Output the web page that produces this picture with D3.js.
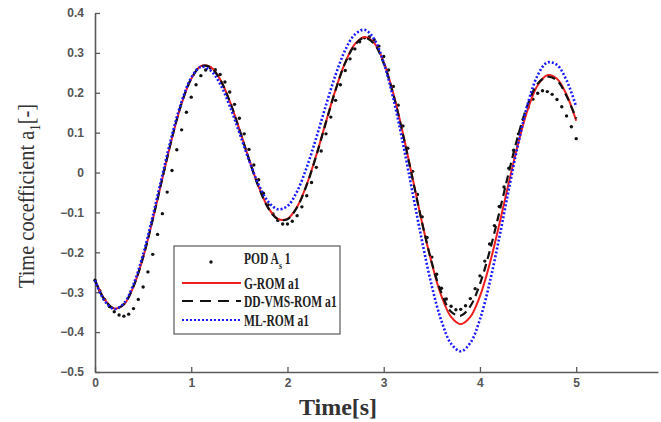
<!DOCTYPE html>
<html>
<head>
<meta charset="utf-8">
<script src="https://cdn.jsdelivr.net/npm/d3@7"></script>
<style>
  html, body { margin: 0; padding: 0; background: #fff; }
  svg { display: block; }
</style>
</head>
<body>
<div id="chart"></div>
<script>
// sample times of the ROM curves (s)
var timeRom = [0, 0.1, 0.2, 0.3, 0.4, 0.5, 0.6, 0.7, 0.8, 0.9, 1.0, 1.1, 1.2, 1.3, 1.4, 1.5, 1.6, 1.7, 1.8, 1.9,
  2.0, 2.1, 2.2, 2.3, 2.4, 2.5, 2.6, 2.7, 2.8, 2.9, 3.0, 3.1, 3.2, 3.3, 3.4, 3.5, 3.6, 3.7, 3.8, 3.9,
  4.0, 4.1, 4.2, 4.3, 4.4, 4.5, 4.6, 4.7, 4.8, 4.9, 5.0];

var gRom = [-0.270, -0.318, -0.341, -0.331, -0.286, -0.213, -0.118, -0.015, 0.086, 0.173,
  0.235, 0.267, 0.265, 0.234, 0.179, 0.109, 0.034, -0.035, -0.088, -0.116,
  -0.116, -0.086, -0.030, 0.044, 0.127, 0.208, 0.276, 0.322, 0.340, 0.325,
  0.277, 0.198, 0.098, -0.014, -0.127, -0.228, -0.310, -0.362, -0.380, -0.362,
  -0.310, -0.230, -0.131, -0.025, 0.076, 0.161, 0.219, 0.244, 0.235, 0.195, 0.130];

var ddVmsRom = [-0.270, -0.319, -0.341, -0.330, -0.285, -0.212, -0.117, -0.014, 0.087, 0.174,
  0.235, 0.266, 0.264, 0.233, 0.178, 0.108, 0.033, -0.036, -0.089, -0.117,
  -0.117, -0.087, -0.031, 0.043, 0.126, 0.207, 0.275, 0.320, 0.338, 0.323,
  0.274, 0.195, 0.095, -0.016, -0.127, -0.226, -0.302, -0.349, -0.359, -0.335,
  -0.279, -0.198, -0.101, 0.001, 0.096, 0.173, 0.223, 0.240, 0.231, 0.192, 0.135];

var mlRom = [-0.270, -0.322, -0.342, -0.328, -0.280, -0.205, -0.109, -0.006, 0.094, 0.178,
  0.238, 0.265, 0.256, 0.222, 0.167, 0.100, 0.031, -0.030, -0.073, -0.092,
  -0.084, -0.047, 0.013, 0.088, 0.169, 0.245, 0.307, 0.346, 0.358, 0.335,
  0.275, 0.185, 0.073, -0.051, -0.174, -0.285, -0.372, -0.429, -0.448, -0.427,
  -0.368, -0.277, -0.164, -0.042, 0.075, 0.175, 0.244, 0.276, 0.270, 0.231, 0.165];

// POD projection, sampled every 0.05 s
var timePod = [0, 0.05, 0.1, 0.15, 0.2, 0.25, 0.3, 0.35, 0.4, 0.45, 0.5, 0.55, 0.6, 0.65, 0.7, 0.75, 0.8, 0.85, 0.9, 0.95,
  1.0, 1.05, 1.1, 1.15, 1.2, 1.25, 1.3, 1.35, 1.4, 1.45, 1.5, 1.55, 1.6, 1.65, 1.7, 1.75, 1.8, 1.85, 1.9, 1.95,
  2.0, 2.05, 2.1, 2.15, 2.2, 2.25, 2.3, 2.35, 2.4, 2.45, 2.5, 2.55, 2.6, 2.65, 2.7, 2.75, 2.8, 2.85, 2.9, 2.95,
  3.0, 3.05, 3.1, 3.15, 3.2, 3.25, 3.3, 3.35, 3.4, 3.45, 3.5, 3.55, 3.6, 3.65, 3.7, 3.75, 3.8, 3.85, 3.9, 3.95,
  4.0, 4.05, 4.1, 4.15, 4.2, 4.25, 4.3, 4.35, 4.4, 4.45, 4.5, 4.55, 4.6, 4.65, 4.7, 4.75, 4.8, 4.85, 4.9, 4.95, 5.0];

var podAs = [-0.270, -0.296, -0.318, -0.336, -0.349, -0.357, -0.360, -0.355, -0.341, -0.318,
  -0.287, -0.249, -0.205, -0.155, -0.103, -0.049, 0.005, 0.057, 0.107, 0.151,
  0.189, 0.220, 0.243, 0.257, 0.262, 0.258, 0.246, 0.227, 0.202, 0.171,
  0.136, 0.097, 0.058, 0.019, -0.018, -0.052, -0.081, -0.104, -0.120, -0.129,
  -0.129, -0.122, -0.108, -0.086, -0.058, -0.025, 0.013, 0.054, 0.097, 0.139,
  0.181, 0.220, 0.256, 0.285, 0.310, 0.328, 0.338, 0.340, 0.333, 0.317,
  0.291, 0.257, 0.216, 0.169, 0.117, 0.061, 0.003, -0.055, -0.111, -0.163,
  -0.212, -0.255, -0.290, -0.317, -0.335, -0.344, -0.343, -0.334, -0.316, -0.291,
  -0.259, -0.222, -0.179, -0.133, -0.085, -0.036, 0.011, 0.056, 0.097, 0.133,
  0.163, 0.184, 0.199, 0.205, 0.203, 0.196, 0.183, 0.165, 0.142, 0.115, 0.085];

var xTicks = [0, 1, 2, 3, 4, 5];
var yTicks = [-0.5, -0.4, -0.3, -0.2, -0.1, 0, 0.1, 0.2, 0.3, 0.4];

var W = 661, H = 422;
var axisColor = "#5a5a5a";
var serif = "'Liberation Serif', 'Times New Roman', serif";

var svg = d3.select("#chart").append("svg")
  .attr("width", W)
  .attr("height", H);

// the x axis line runs past t = 5, to the edge of the figure
var xScale = d3.scaleLinear().domain([0, 5.85]).range([95, 658]);
var yScale = d3.scaleLinear().domain([-0.5, 0.4]).range([372, 13]);

var xAxis = d3.axisBottom(xScale)
  .tickValues(xTicks)
  .tickSizeInner(-5)
  .tickSizeOuter(0)
  .tickPadding(6)
  .tickFormat(d3.format("d"));

var yAxis = d3.axisLeft(yScale)
  .tickValues(yTicks)
  .tickSizeInner(-5)
  .tickSizeOuter(0)
  .tickPadding(11)
  .tickFormat(function(d) {
    return d === 0 ? "0" : d3.format(".1f")(d).replace("-", "\u2212");
  });

var gx = svg.append("g")
  .attr("transform", "translate(0," + yScale(-0.5) + ")")
  .call(xAxis);
var gy = svg.append("g")
  .attr("transform", "translate(" + xScale(0) + ",0)")
  .call(yAxis);

[gx, gy].forEach(function(g) {
  g.select(".domain").attr("stroke", axisColor).attr("stroke-width", 1.6);
  g.selectAll(".tick line").attr("stroke", axisColor).attr("stroke-width", 1.3);
  g.selectAll(".tick text")
    .attr("fill", "#555")
    .style("font-family", "'Liberation Sans', Arial, sans-serif")
    .style("font-weight", "bold")
    .style("font-size", "12px");
});

var romLine = function(values) {
  return d3.line()
    .x(function(d, i) { return xScale(timeRom[i]); })
    .y(function(d) { return yScale(d); })
    .curve(d3.curveCatmullRom)(values);
};

// POD dots
svg.append("g")
  .selectAll("circle")
  .data(podAs)
  .enter()
  .append("circle")
  .attr("cx", function(d, i) { return xScale(timePod[i]); })
  .attr("cy", function(d) { return yScale(d); })
  .attr("r", 1.7)
  .attr("fill", "#111");

svg.append("path")
  .attr("d", romLine(gRom))
  .attr("fill", "none")
  .attr("stroke", "#f01e1e")
  .attr("stroke-width", 2);

svg.append("path")
  .attr("d", romLine(ddVmsRom))
  .attr("fill", "none")
  .attr("stroke", "#111")
  .attr("stroke-width", 2.2)
  .attr("stroke-dasharray", "8,5");

svg.append("path")
  .attr("d", romLine(mlRom))
  .attr("fill", "none")
  .attr("stroke", "#1a1aff")
  .attr("stroke-width", 2.6)
  .attr("stroke-dasharray", "2,2");

// axis labels
var yLabel = svg.append("text")
  .attr("transform", "translate(34,196) rotate(-90) scale(0.85,1)")
  .attr("text-anchor", "middle")
  .attr("fill", "#333")
  .style("font-family", serif)
  .style("font-size", "24px");
yLabel.append("tspan").text("Time cocefficient a");
yLabel.append("tspan").attr("dy", 6).style("font-size", "15px").text("1");
yLabel.append("tspan").attr("dy", -6).text("[-]");

svg.append("text")
  .attr("x", 338)
  .attr("y", 415)
  .attr("text-anchor", "middle")
  .attr("fill", "#333")
  .style("font-family", serif)
  .style("font-weight", "bold")
  .style("font-size", "24px")
  .text("Time[s]");

// legend
var legend = svg.append("g");
legend.append("rect")
  .attr("x", 174).attr("y", 246)
  .attr("width", 166).attr("height", 88)
  .attr("fill", "#fff")
  .attr("stroke", "#666")
  .attr("stroke-width", 1.3);

legend.append("circle").attr("cx", 211).attr("cy", 262).attr("r", 1.7).attr("fill", "#111");
legend.append("line").attr("x1", 182).attr("x2", 241).attr("y1", 283).attr("y2", 283)
  .attr("stroke", "#f01e1e").attr("stroke-width", 2);
legend.append("line").attr("x1", 182).attr("x2", 241).attr("y1", 301).attr("y2", 301)
  .attr("stroke", "#111").attr("stroke-width", 2.2).attr("stroke-dasharray", "11,7");
legend.append("line").attr("x1", 182).attr("x2", 241).attr("y1", 320).attr("y2", 320)
  .attr("stroke", "#1a1aff").attr("stroke-width", 2.2).attr("stroke-dasharray", "2,2");

var legendText = function(y) {
  return legend.append("text")
    .attr("transform", "translate(244," + y + ") scale(0.7,1)")
    .attr("fill", "#222")
    .style("font-family", serif)
    .style("font-weight", "bold")
    .style("font-size", "16.5px");
};
var podText = legendText(264);
podText.append("tspan").text("POD A");
podText.append("tspan").attr("dy", 5).style("font-size", "11px").text("s");
podText.append("tspan").attr("dy", -5).text(" 1");
legendText(288.5).text("G-ROM a1");
legendText(306.5).text("DD-VMS-ROM a1");
legendText(325.5).text("ML-ROM a1");
</script>
</body>
</html>
